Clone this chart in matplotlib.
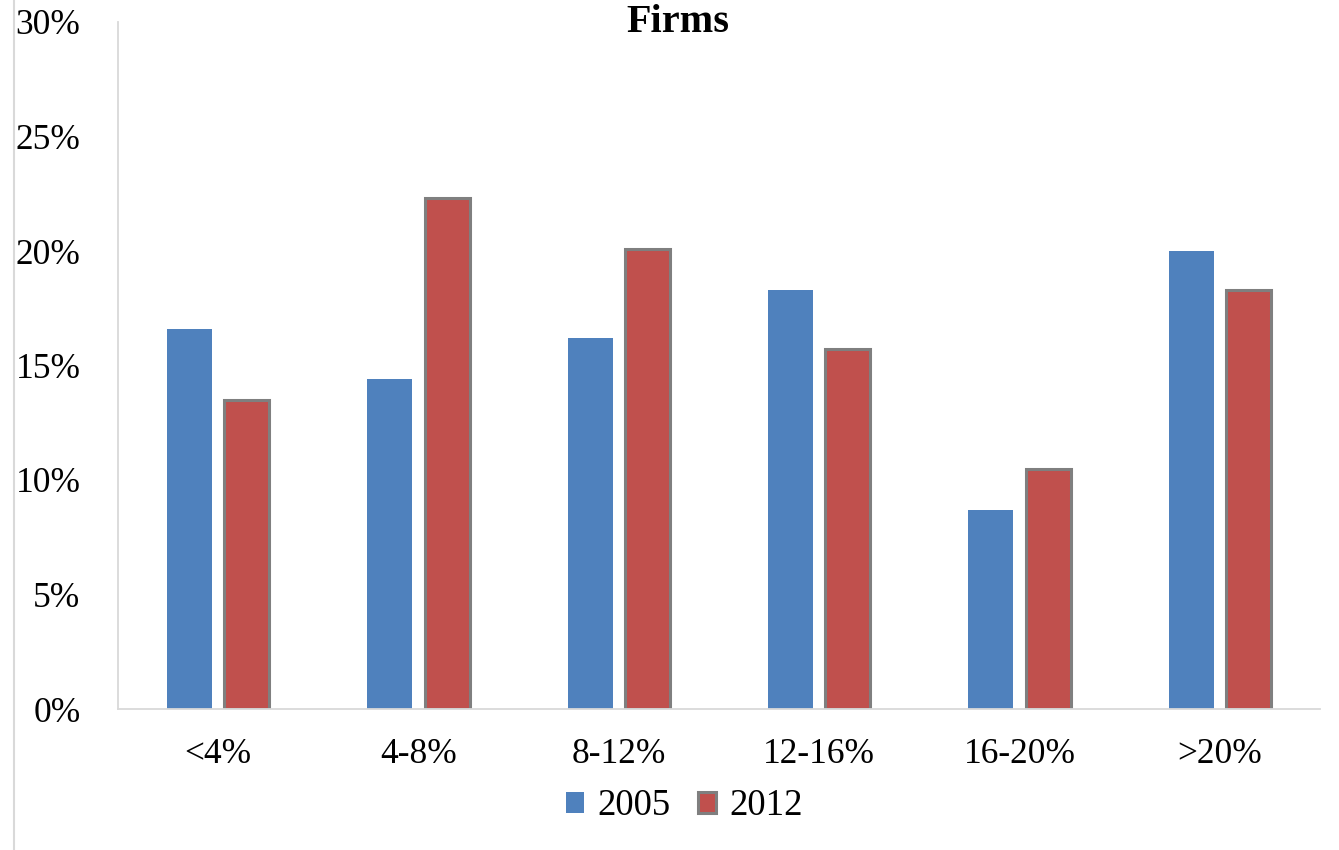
import numpy as np
import matplotlib
matplotlib.use("Agg")
import matplotlib.pyplot as plt
from matplotlib.lines import Line2D
from matplotlib.ticker import FuncFormatter

plt.rcParams.update({
    "font.family": "serif",
    "font.serif": ["Liberation Serif", "DejaVu Serif"],
})

categories = ["<4%", "4-8%", "8-12%", "12-16%", "16-20%", ">20%"]
share_2005 = [16.6, 14.4, 16.2, 18.3, 8.7, 20.0]
share_2012 = [13.5, 22.3, 20.1, 15.7, 10.5, 18.3]

C_BLUE = "#4f81bd"
C_RED = "#c0504d"
C_EDGE = "#7f7f7f"

fig = plt.figure(figsize=(13.39, 8.5), dpi=100)
ax = fig.add_axes([118 / 1339, 1 - 709 / 850, 1202 / 1339, 687 / 850])

x = np.arange(len(categories))
w = 0.225
ax.bar(x - 0.143, share_2005, w, color=C_BLUE, label="2005")
ax.bar(x + 0.143, share_2012, w, color=C_RED, edgecolor=C_EDGE, lw=2.2,
       label="2012")

ax.set_xlim(-0.5, len(categories) - 0.5)
ax.set_ylim(0, 30)
ax.set_yticks(np.arange(0, 31, 5))
ax.yaxis.set_major_formatter(FuncFormatter(lambda v, _: f"{v:.0f}%"))
ax.set_xticks(x)
ax.set_xticklabels(categories)
ax.tick_params(axis="both", length=0, labelsize=25.5)
ax.tick_params(axis="x", pad=21)
ax.tick_params(axis="y", pad=27)

for s in ("top", "right"):
    ax.spines[s].set_visible(False)
for s in ("left", "bottom"):
    ax.spines[s].set_color("#d9d9d9")
    ax.spines[s].set_linewidth(1.3)

fig.text(678 / 1339, 1 - 23 / 850, "Firms", ha="center", va="center",
         fontsize=29, fontweight="bold")

fig.legend(loc="center", bbox_to_anchor=(684 / 1339, 1 - 806 / 850), ncol=2,
           frameon=False, fontsize=26.5, handlelength=0.5, handleheight=0.5,
           handletextpad=0.35, columnspacing=0.75)

fig.add_artist(Line2D([14 / 1339, 14 / 1339], [0, 1], color="#d9d9d9", lw=1.5))

fig.savefig("out.png", dpi=100)
